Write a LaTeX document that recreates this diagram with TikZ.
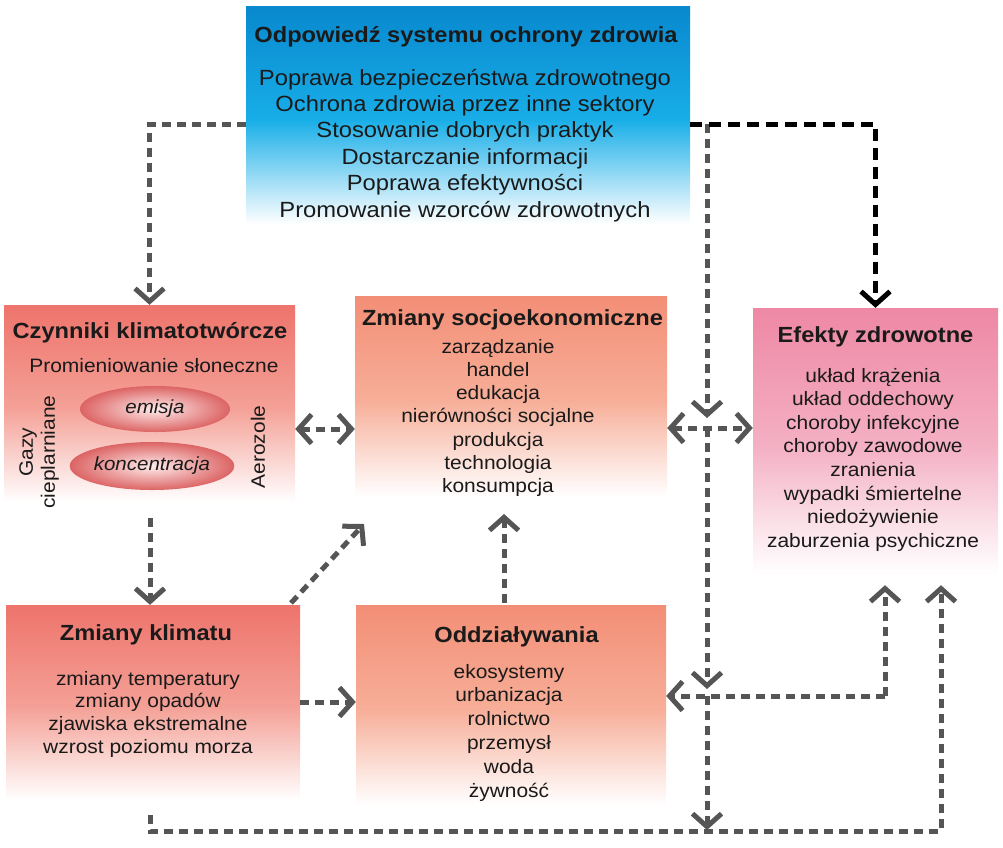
\documentclass[tikz,border=0pt]{standalone}
\usepackage{fontspec}
\setmainfont{Liberation Sans}[FakeStretch=1.08]
\usetikzlibrary{arrows.meta,shapes.geometric,calc}
\definecolor{txt}{HTML}{1A1A1A}
\definecolor{arrgray}{HTML}{555555}
\definecolor{respTop}{HTML}{0888CE}
\definecolor{respMid}{HTML}{18AEE8}
\definecolor{redTop}{HTML}{EE746C}
\definecolor{redMid}{HTML}{F4A096}
\definecolor{salTop}{HTML}{F38E76}
\definecolor{salMid}{HTML}{F7AE98}
\definecolor{pinkTop}{HTML}{EE88A5}
\definecolor{pinkMid}{HTML}{F4B0C4}
\definecolor{ellOut}{HTML}{DC6464}
\colorlet{fadetop}{red}
\colorlet{fademid}{red}
\pgfdeclareverticalshading[fadetop,fademid]{boxfade}{100bp}{color(0bp)=(white); color(27bp)=(white); color(34bp)=(white!70!fademid); color(50bp)=(fademid); color(75bp)=(fadetop); color(100bp)=(fadetop)}
\tikzset{
  fbox/.style n args={2}{rectangle, inner sep=0pt, draw=none,
    /utils/exec={\colorlet{fadetop}{#1}\colorlet{fademid}{#2}}, shading=boxfade},
  ttl/.style={font=\fontsize{21.9}{24}\selectfont\bfseries, text=txt, inner sep=0pt, anchor=base},
  bod/.style={font=\fontsize{19.4}{23.5}\selectfont, text=txt, inner sep=0pt, anchor=base, align=center},
  gtip/.tip={Straight Barb[length=13pt,width=29pt]},
  ga/.style={draw=arrgray, line width=5pt, dash pattern=on 9pt off 6pt, -gtip},
  gb/.style={draw=arrgray, line width=5pt, dash pattern=on 9pt off 6pt, gtip-gtip},
  ba/.style={draw=black, line width=5pt, dash pattern=on 12pt off 7pt, -{Straight Barb[length=13pt,width=29pt]}},
  ell/.style={ellipse, inner sep=0pt, minimum width=150pt, minimum height=46pt, shading=radial, inner color=red!8!white, outer color=ellOut, font=\fontsize{19}{22}\selectfont\itshape, text=txt}
}
\begin{document}
\begin{tikzpicture}[x=1pt,y=-1pt]
\useasboundingbox (0,0) rectangle (1003,847);
% boxes
\node[fbox={respTop}{respMid}, minimum width=444pt, minimum height=227pt] (resp) at (468,119.5) {};
\node[fbox={redTop}{redMid}, minimum width=291pt, minimum height=205pt] (czyn) at (149.5,407.5) {};
\node[fbox={salTop}{salMid}, minimum width=312pt, minimum height=209pt] (socio) at (511,400.5) {};
\node[fbox={pinkTop}{pinkMid}, minimum width=245pt, minimum height=277pt] (efekt) at (875.5,446.5) {};
\node[fbox={redTop}{redMid}, minimum width=294pt, minimum height=203pt] (klimat) at (153,706.5) {};
\node[fbox={salTop}{salMid}, minimum width=310pt, minimum height=208pt] (oddz) at (511,709) {};
% texts (multi-line nodes: base = last line's baseline)
\node[ttl] (respT) at (466,42) {Odpowiedź systemu ochrony zdrowia};
\node[bod, font=\fontsize{22}{26.4}\selectfont] (respB) at (465,217) {Poprawa bezpieczeństwa zdrowotnego\\Ochrona zdrowia przez inne sektory\\Stosowanie dobrych praktyk\\Dostarczanie informacji\\Poprawa efektywności\\Promowanie wzorców zdrowotnych};
\node[ttl] (czynT) at (150,338) {Czynniki klimatotwórcze};
\node[bod] (czynS) at (154,372) {Promieniowanie słoneczne};
\node[ell] (emis) at (155,409) {emisja};
\node[ell, minimum height=48pt] (konc) at (152,466) {koncentracja};
\node[bod, rotate=90, anchor=center, font=\fontsize{19.4}{22}\selectfont] (gazy) at (39,452) {Gazy\\cieplarniane};
\node[bod, rotate=90, anchor=center] (aero) at (258,447) {Aerozole};
\node[ttl] (socioT) at (512.5,325) {Zmiany socjoekonomiczne};
\node[bod, font=\fontsize{19.4}{23.3}\selectfont] (socioB) at (498,492.8) {zarządzanie\\handel\\edukacja\\nierówności socjalne\\produkcja\\technologia\\konsumpcja};
\node[ttl] (efektT) at (875.5,342) {Efekty zdrowotne};
\node[bod, font=\fontsize{19.4}{23.6}\selectfont] (efektB) at (873,547.2) {układ krążenia\\układ oddechowy\\choroby infekcyjne\\choroby zawodowe\\zranienia\\wypadki śmiertelne\\niedożywienie\\zaburzenia psychiczne};
\node[ttl] (klimatT) at (146,640) {Zmiany klimatu};
\node[bod, font=\fontsize{19.4}{22.7}\selectfont] (klimatB) at (148,753.1) {zmiany temperatury\\zmiany opadów\\zjawiska ekstremalne\\wzrost poziomu morza};
\node[ttl] (oddzT) at (516.5,642) {Oddziaływania};
\node[bod, font=\fontsize{19.4}{23.8}\selectfont] (oddzB) at (509,797) {ekosystemy\\urbanizacja\\rolnictwo\\przemysł\\woda\\żywność};
% coordinates
\coordinate (pA) at (246,124);
\coordinate (pB) at (690,124);
\coordinate (pC) at (707,124);
\coordinate (v1) at (707,418);
\coordinate (h1) at (707,428);
\coordinate (v2) at (707,689);
\coordinate (h2) at (707,696);
\coordinate (v3) at (707,830);
\coordinate (q1) at (885,696);
\coordinate (b0) at (150,815);
\coordinate (b1) at (150,831);
\coordinate (b2) at (941,831);
\coordinate (m1) at (0,429);
\coordinate (c7) at (150,518);
\coordinate (d0) at (291,603);
\coordinate (d1) at (364,524);
\coordinate (k1) at (0,702);
\coordinate (o0) at (504,603);
\coordinate (o1) at (504,514);
% connectors
\draw[ga] (pA) -| (czyn.north);
\draw[ga] (pC) -- (v1);
\draw[ga] (h1) -- (v2);
\draw[ga] (h2) -- (v3);
\draw[gb] (socio.east |- h1) -- (efekt.west |- h1);
\draw[ga] (q1) -- (oddz.east |- q1);
\draw[ga] (q1) -- (q1 |- efekt.south);
\draw[ga] (b0) -- (b1) -- (b2) -- (b2 |- efekt.south);
\draw[gb] (czyn.east |- m1) -- (socio.west |- m1);
\draw[ga] (c7) -- (klimat.north -| c7);
\draw[ga] (d0) -- (d1);
\draw[ga] (klimat.east |- k1) -- (oddz.west |- k1);
\draw[ga] (o0) -- (o1);
\draw[ba] (pB) -| (efekt.north);
\end{tikzpicture}
\end{document}
